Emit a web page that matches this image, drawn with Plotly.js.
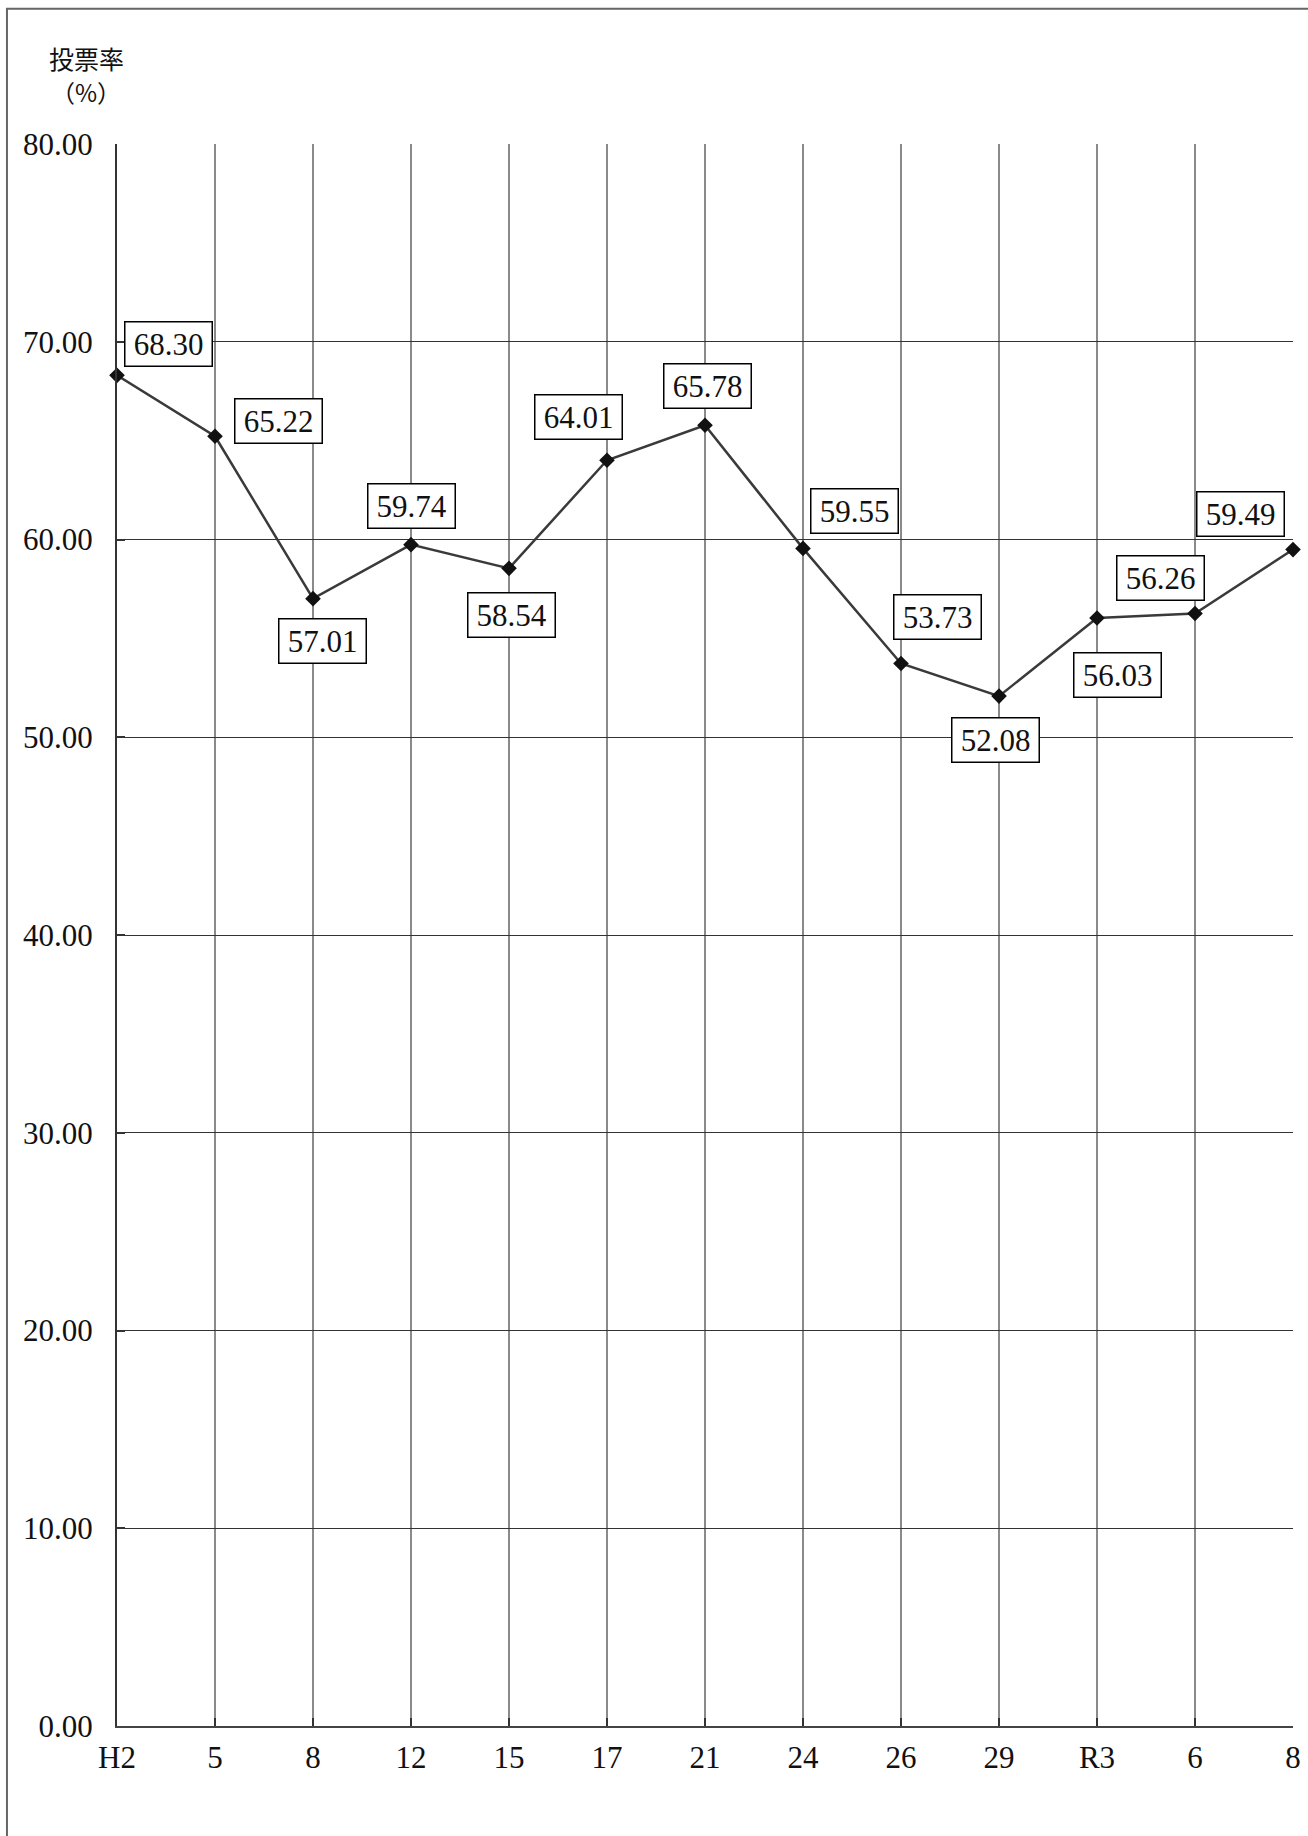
<!DOCTYPE html>
<html>
<head>
<meta charset="utf-8">
<script src="https://cdn.plot.ly/plotly-3.0.1.min.js"></script>
<style>
html,body{margin:0;padding:0;background:#fff;}
#chart{width:1308px;height:1836px;}
</style>
</head>
<body>
<div id="chart"></div>
<script>
// Data
const categories = ['H2','5','8','12','15','17','21','24','26','29','R3','6','8'];
const turnout = [68.30, 65.22, 57.01, 59.74, 58.54, 64.01, 65.78, 59.55, 53.73, 52.08, 56.03, 56.26, 59.49];
const yTicks = [0, 10, 20, 30, 40, 50, 60, 70, 80];
const yTitle1 = '投票率';
const yTitle2 = '（%）';
// label offsets (pixels) relative to each point: [xshift, yshift]
const labelShift = [[51,31],[63,15],[9,-42],[0,39],[2,-47],[-29,43],[2,39],[51,37],[36,46],[-4,-44],[20,-57],[-35,35],[-53,36]];

const xIdx = categories.map((_, i) => i);
const FONT = 'Liberation Serif, DejaVu Serif, serif';

const trace = {
  x: xIdx,
  y: turnout,
  type: 'scatter',
  mode: 'lines+markers',
  line: {color: '#3a3a3a', width: 2.5},
  marker: {symbol: 'diamond', size: 12, color: '#111'},
  cliponaxis: false,
  hoverinfo: 'skip'
};

const annotations = turnout.map((v, i) => ({
  x: xIdx[i], y: v, xref: 'x', yref: 'y',
  text: v.toFixed(2),
  showarrow: false,
  xshift: labelShift[i][0], yshift: labelShift[i][1],
  font: {family: FONT, size: 31, color: '#111'},
  bgcolor: '#fff',
  bordercolor: '#000',
  borderwidth: 1.5,
  borderpad: 3,
  width: 80,
  height: 37
}));

annotations.push({
  xref: 'paper', yref: 'paper',
  x: (87 - 117) / 1175.7, y: (1725.7 - 58) / 1581.4,
  text: yTitle1, showarrow: false, xanchor: 'center', yanchor: 'middle',
  font: {family: 'Noto Sans CJK JP', size: 25, color: '#111'}
});
annotations.push({
  xref: 'paper', yref: 'paper',
  x: (86 - 117) / 1175.7, y: (1725.7 - 92) / 1581.4,
  text: yTitle2, showarrow: false, xanchor: 'center', yanchor: 'middle',
  font: {family: 'Noto Sans CJK JP', size: 24, color: '#111'}
});

const layout = {
  width: 1308, height: 1836,
  margin: {l: 117, r: 15, t: 144, b: 110, pad: 0},
  paper_bgcolor: '#fff', plot_bgcolor: '#fff',
  showlegend: false,
  font: {family: FONT, color: '#111'},
  xaxis: {
    range: [0, 12],
    tickmode: 'array', tickvals: xIdx, ticktext: categories,
    showgrid: true, gridcolor: '#8a8a8a', gridwidth: 2,
    showline: true, linecolor: '#444', linewidth: 2,
    ticks: 'inside', ticklen: 8, tickwidth: 2, tickcolor: '#333',
    ticklabelstandoff: 3,
    tickfont: {family: FONT, size: 31, color: '#111'},
    zeroline: false, fixedrange: true
  },
  yaxis: {
    range: [0, 80],
    tickmode: 'array', tickvals: yTicks, ticktext: yTicks.map(v => v.toFixed(2)),
    showgrid: true, gridcolor: '#333', gridwidth: 1,
    showline: true, linecolor: '#333', linewidth: 2,
    ticks: 'inside', ticklen: 8, tickwidth: 2, tickcolor: '#333',
    ticklabelstandoff: 16,
    tickfont: {family: FONT, size: 31, color: '#111'},
    zeroline: false, fixedrange: true
  },
  shapes: [{
    type: 'rect', xref: 'paper', yref: 'paper',
    x0: (7 - 117) / 1175.7, x1: 1.2,
    y0: (1725.7 - 9) / 1581.4, y1: -0.3,
    line: {color: '#666', width: 2}, layer: 'below'
  }],
  annotations: annotations
};

Plotly.newPlot('chart', [trace], layout, {displayModeBar: false, staticPlot: true});
</script>
</body>
</html>
